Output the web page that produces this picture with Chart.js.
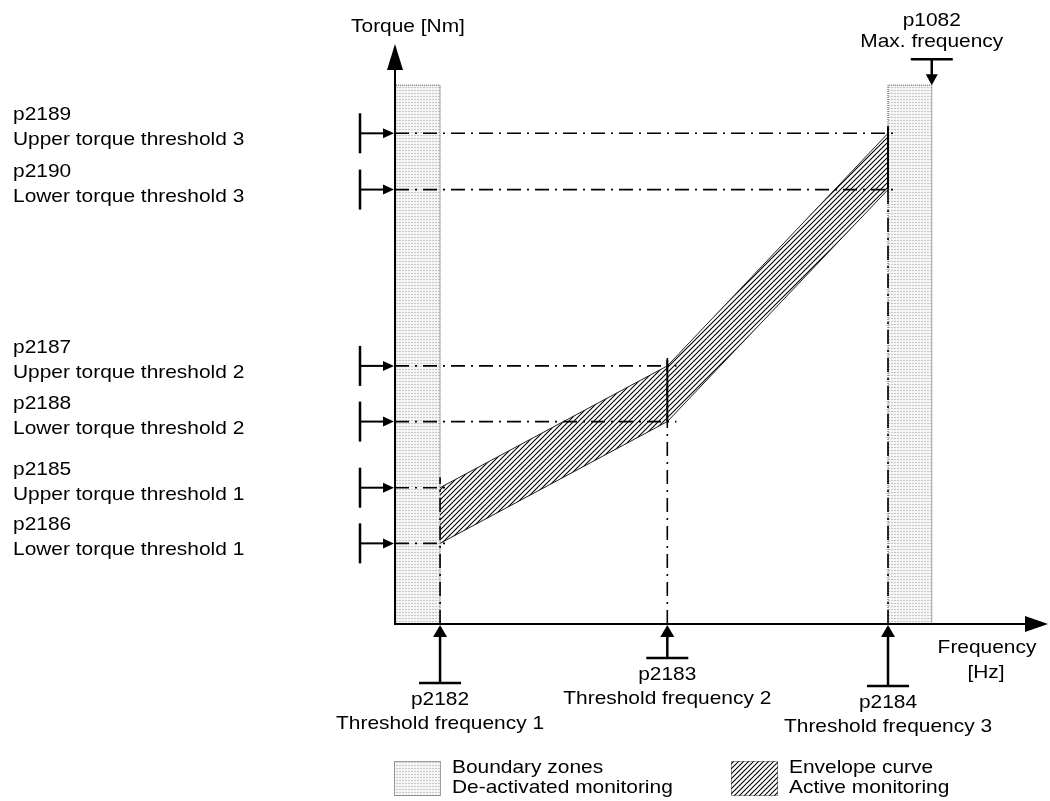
<!DOCTYPE html>
<html lang="en">
<head>
  <meta charset="UTF-8">
  <title>Torque monitoring envelope curve</title>
  <script src="https://cdn.jsdelivr.net/npm/chart.js"></script>
  <style>
    html, body { margin: 0; padding: 0; background: #fff; }
    canvas { display: block; }
  </style>
</head>
<body>
  <canvas id="chart" width="1050" height="801"></canvas>

  <script>
    // frequencies (x axis, 0..100) and torques (y axis, 0..100)
    const freqCodes = ['p2182', 'p2183', 'p2184'];
    const freqNames = ['Threshold frequency 1', 'Threshold frequency 2', 'Threshold frequency 3'];
    const thresholdFreq = [6.9, 41.7, 75.5];
    const maxFreq = 82.2;

    const upperCodes = ['p2185', 'p2187', 'p2189'];
    const upperNames = ['Upper torque threshold 1', 'Upper torque threshold 2', 'Upper torque threshold 3'];
    const upperTorque = [23.5, 44.5, 84.6];

    const lowerCodes = ['p2186', 'p2188', 'p2190'];
    const lowerNames = ['Lower torque threshold 1', 'Lower torque threshold 2', 'Lower torque threshold 3'];
    const lowerTorque = [13.9, 34.9, 74.9];

    const zoneTop = 92.9;

    const FONT = '18.5px "Liberation Sans", Arial, sans-serif';
    const SX = 1.13; // text in the original is a bit wider than Arial

    function dotPattern() {
      const c = document.createElement('canvas');
      c.width = 3; c.height = 3;
      const g = c.getContext('2d');
      g.fillStyle = '#f5f5f5';
      g.fillRect(0, 0, 3, 3);
      g.fillStyle = '#c8c8c8';
      g.fillRect(0, 0, 2, 1);
      return g.createPattern(c, 'repeat');
    }

    function hatchPattern() {
      const s = 5;
      const c = document.createElement('canvas');
      c.width = s; c.height = s;
      const g = c.getContext('2d');
      g.strokeStyle = '#000';
      g.lineWidth = 1.1;
      g.beginPath();
      g.moveTo(-1, s + 1); g.lineTo(s + 1, -1);
      g.moveTo(-1, 1); g.lineTo(1, -1);
      g.moveTo(s - 1, s + 1); g.lineTo(s + 1, s - 1);
      g.stroke();
      return g.createPattern(c, 'repeat');
    }

    const dots = dotPattern();
    const hatch = hatchPattern();

    const dashLine = (pts) => ({
      data: pts, fill: false, borderColor: '#000', borderWidth: 1.6,
      borderDash: [14, 6, 2, 6], order: 1
    });

    const datasets = [];
    // envelope curve: upper edge filled down to the lower edge
    datasets.push({
      data: thresholdFreq.map((f, i) => ({ x: f, y: upperTorque[i] })),
      fill: '+1', backgroundColor: hatch, borderColor: '#222', borderWidth: 1, order: 5
    });
    datasets.push({
      data: thresholdFreq.map((f, i) => ({ x: f, y: lowerTorque[i] })),
      fill: false, borderColor: '#222', borderWidth: 1, order: 5
    });
    // boundary zones
    const zone = (x0, x1) => ({
      data: [{ x: x0, y: 0 }, { x: x0, y: zoneTop }, { x: x1, y: zoneTop }, { x: x1, y: 0 }],
      fill: 'origin', backgroundColor: dots, borderColor: '#444', borderWidth: 1,
      borderDash: [1, 1], order: 6
    });
    datasets.push(zone(0, thresholdFreq[0]));
    datasets.push(zone(thresholdFreq[2], maxFreq));

    // threshold lines
    for (let i = 0; i < thresholdFreq.length; i++) {
      const f = thresholdFreq[i];
      datasets.push(dashLine([{ x: 0, y: upperTorque[i] }, { x: f + 1.4, y: upperTorque[i] }]));
      datasets.push(dashLine([{ x: 0, y: lowerTorque[i] }, { x: f + 1.4, y: lowerTorque[i] }]));
      datasets.push(dashLine([{ x: f, y: 0 }, { x: f, y: upperTorque[i] + 1.8 }]));
      if (i > 0) {
        datasets.push({
          data: [{ x: f, y: lowerTorque[i] }, { x: f, y: upperTorque[i] + 1 }],
          fill: false, borderColor: '#000', borderWidth: 2, order: 0
        });
      }
    }

    function text(ctx, s, x, y, align) {
      ctx.save();
      ctx.translate(x, y);
      ctx.scale(SX, 1);
      ctx.textAlign = align || 'left';
      ctx.textBaseline = 'alphabetic';
      ctx.fillText(s, 0, 0);
      ctx.restore();
    }

    function seg(ctx, x0, y0, x1, y1, w) {
      ctx.lineWidth = w;
      ctx.beginPath();
      ctx.moveTo(x0, y0);
      ctx.lineTo(x1, y1);
      ctx.stroke();
    }

    // filled arrow head, tip at (x, y)
    function head(ctx, x, y, dir, len, half) {
      ctx.beginPath();
      ctx.moveTo(x, y);
      if (dir === 'up') { ctx.lineTo(x - half, y + len); ctx.lineTo(x + half, y + len); }
      if (dir === 'down') { ctx.lineTo(x - half, y - len); ctx.lineTo(x + half, y - len); }
      if (dir === 'right') { ctx.lineTo(x - len, y - half); ctx.lineTo(x - len, y + half); }
      ctx.closePath();
      ctx.fill();
    }

    const stemDrop = [59, 34, 62];

    const diagram = {
      id: 'diagram',
      afterDatasetsDraw(chart) {
        const { ctx, chartArea: a, scales: { x, y } } = chart;
        ctx.save();
        ctx.fillStyle = '#000';
        ctx.strokeStyle = '#000';
        ctx.font = FONT;

        // axes
        seg(ctx, a.left, a.bottom + 1, a.left, a.top + 22, 2);
        head(ctx, a.left, a.top, 'up', 26, 8);
        seg(ctx, a.left - 1, a.bottom, a.right - 20, a.bottom, 2);
        head(ctx, a.right, a.bottom, 'right', 23, 8);
        text(ctx, 'Torque [Nm]', a.left + 13, 32, 'center');
        text(ctx, 'Frequency', a.right - 61, a.bottom + 29, 'center');
        text(ctx, '[Hz]', a.right - 62, a.bottom + 54, 'center');

        // torque threshold markers and labels
        const torqueMark = (t, code, name) => {
          const py = y.getPixelForValue(t);
          seg(ctx, a.left - 35, py - 20, a.left - 35, py + 20, 2.5);
          seg(ctx, a.left - 35, py, a.left - 10, py, 2);
          head(ctx, a.left - 1, py, 'right', 11, 5);
          text(ctx, code, 13, py - 13);
          text(ctx, name, 13, py + 12);
        };
        for (let i = 0; i < upperTorque.length; i++) {
          torqueMark(upperTorque[i], upperCodes[i], upperNames[i]);
          torqueMark(lowerTorque[i], lowerCodes[i], lowerNames[i]);
        }

        // threshold frequency markers
        thresholdFreq.forEach((f, i) => {
          const px = x.getPixelForValue(f);
          const by = a.bottom + stemDrop[i];
          head(ctx, px, a.bottom + 1, 'up', 12, 7);
          seg(ctx, px, a.bottom + 12, px, by, 2.5);
          seg(ctx, px - 21, by, px + 21, by, 2.5);
          text(ctx, freqCodes[i], px, by + 22, 'center');
          text(ctx, freqNames[i], px, by + 46, 'center');
        });

        // max frequency marker
        const mx = x.getPixelForValue(maxFreq);
        const zy = y.getPixelForValue(zoneTop);
        seg(ctx, mx - 21, zy - 26, mx + 21, zy - 26, 2.5);
        seg(ctx, mx, zy - 26, mx, zy - 9, 2.5);
        head(ctx, mx, zy, 'down', 11, 6);
        text(ctx, 'p1082', mx, zy - 59, 'center');
        text(ctx, 'Max. frequency', mx, zy - 38, 'center');

        // legend
        const ly = a.bottom + 137;
        const box = (bx, pattern) => {
          ctx.fillStyle = pattern;
          ctx.fillRect(bx, ly, 47, 35);
          ctx.setLineDash([1, 1]);
          ctx.strokeStyle = '#444';
          ctx.lineWidth = 1;
          ctx.strokeRect(bx + 0.5, ly + 0.5, 46, 34);
          ctx.setLineDash([]);
          ctx.fillStyle = '#000';
        };
        box(a.left - 1, dots);
        text(ctx, 'Boundary zones', a.left + 57, ly + 12);
        text(ctx, 'De-activated monitoring', a.left + 57, ly + 32);
        box(a.left + 336, hatch);
        text(ctx, 'Envelope curve', a.left + 394, ly + 12);
        text(ctx, 'Active monitoring', a.left + 394, ly + 32);

        ctx.restore();
      }
    };

    new Chart(document.getElementById('chart').getContext('2d'), {
      type: 'line',
      data: { datasets: datasets },
      options: {
        responsive: false,
        animation: false,
        layout: { padding: { left: 395, right: 2, top: 44, bottom: 177 } },
        plugins: { legend: { display: false }, tooltip: { enabled: false } },
        elements: { point: { radius: 0 }, line: { tension: 0 } },
        scales: {
          x: { type: 'linear', min: 0, max: 100, display: false },
          y: { type: 'linear', min: 0, max: 100, display: false }
        }
      },
      plugins: [diagram]
    });
  </script>
</body>
</html>
